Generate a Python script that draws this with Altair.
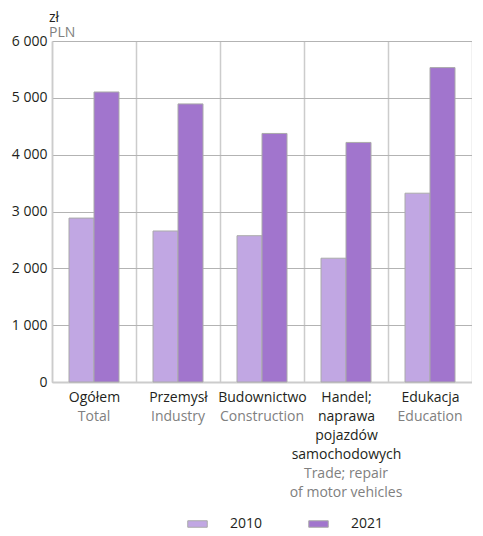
import json
import altair as alt
import pandas as pd

categories_pl = ["Ogółem", "Przemysł", "Budownictwo", "Handel;|naprawa|pojazdów|samochodowych", "Edukacja"]
categories_en = ["Total", "Industry", "Construction", "Trade; repair|of motor vehicles", "Education"]
years = ["2010", "2021"]
values_2010 = [2884, 2657, 2574, 2178, 3322]
values_2021 = [5103, 4893, 4373, 4215, 5532]
y_ticks = [0, 1000, 2000, 3000, 4000, 5000, 6000]
colors = ["#c1a7e3", "#a175cd"]

FONT = "Open Sans"
DARK = "#231f20"
GREY = "#808080"
LINE_H = 19
PAD = 8

rows = []
for i, c in enumerate(categories_pl):
    rows.append({"cat": c, "year": years[0], "value": values_2010[i]})
    rows.append({"cat": c, "year": years[1], "value": values_2021[i]})
df = pd.DataFrame(rows)

en_expr = "split({}[indexof({}, datum.label)], '|')".format(
    json.dumps(categories_en, ensure_ascii=False), json.dumps(categories_pl, ensure_ascii=False)
)
# English labels start below however many Polish lines the category has
multi = [c for c in categories_pl if len(c.split("|")) > 1][0]
en_padding = {
    "condition": {
        "test": "datum.value == {}".format(json.dumps(multi, ensure_ascii=False)),
        "value": PAD + LINE_H * len(multi.split("|")),
    },
    "value": PAD + LINE_H,
}

x_scale = alt.Scale(paddingInner=0, paddingOuter=0)

x_pl = alt.X(
    "cat:N", sort=categories_pl, scale=x_scale,
    axis=alt.Axis(
        title=None, orient="bottom", labelExpr="split(datum.label, '|')", labelAngle=0,
        labelFontSize=14, labelColor=DARK, labelFont=FONT, labelLineHeight=LINE_H,
        labelPadding=PAD, labelOverlap=False, labelBound=False, ticks=False, grid=True,
        tickBand="extent", gridColor="#cccccc", gridWidth=1.5, domainColor="#cccccc",
        domainWidth=2, labelBaseline="top",
    ),
)
x_en = alt.X(
    "cat:N", sort=categories_pl, scale=x_scale,
    axis=alt.Axis(
        title=None, orient="bottom", labelExpr=en_expr, labelAngle=0,
        labelFontSize=14, labelColor=GREY, labelFont=FONT, labelLineHeight=LINE_H,
        labelPadding=en_padding, labelOverlap=False, labelBound=False, ticks=False,
        grid=False, domain=False, labelBaseline="top",
    ),
)

y_enc = alt.Y(
    "value:Q", scale=alt.Scale(domain=[0, 6000]),
    axis=alt.Axis(
        values=y_ticks, title=None, ticks=False,
        labelExpr="replace(format(datum.value, ','), ',', ' ')",
        labelFontSize=14, labelFont=FONT, labelColor=DARK, labelPadding=5,
        gridColor="#b3b3b3", gridWidth=1, domainColor="#cccccc", domainWidth=1.5,
    ),
)

bars = alt.Chart(df).mark_bar(stroke="#aaaaaa", strokeWidth=1).encode(
    x=x_pl,
    xOffset=alt.XOffset("year:N", scale=alt.Scale(paddingInner=0, paddingOuter=0.68)),
    y=y_enc,
    color=alt.Color(
        "year:N", scale=alt.Scale(domain=years, range=colors),
        legend=alt.Legend(
            title=None, orient="none", legendX=132, legendY=476, direction="horizontal",
            symbolType="M-0.5,-0.5H2.5V0.5H-0.5Z", symbolSize=169, symbolStrokeColor="#aaaaaa",
            symbolStrokeWidth=1, labelOffset=32, columnPadding=42, labelFontSize=14,
            labelFont=FONT, labelColor=DARK, padding=0,
        ),
    ),
)

en_layer = alt.Chart(df).mark_point(opacity=0).encode(x=x_en)

chart = alt.layer(bars, en_layer).resolve_axis(x="independent").properties(
    width=420, height=341,
    title=alt.TitleParams(
        "zł", subtitle="PLN", anchor="start", frame="group", fontSize=14, subtitleFontSize=14,
        font=FONT, subtitleFont=FONT, color=DARK, subtitleColor=GREY,
        fontWeight="normal", subtitlePadding=1, offset=-6, dx=-3,
    ),
    padding={"left": 3, "top": 3, "right": 0, "bottom": 0},
).configure_view(stroke=None)

chart.save("out.html", embed_options={"renderer": "svg", "actions": False})
